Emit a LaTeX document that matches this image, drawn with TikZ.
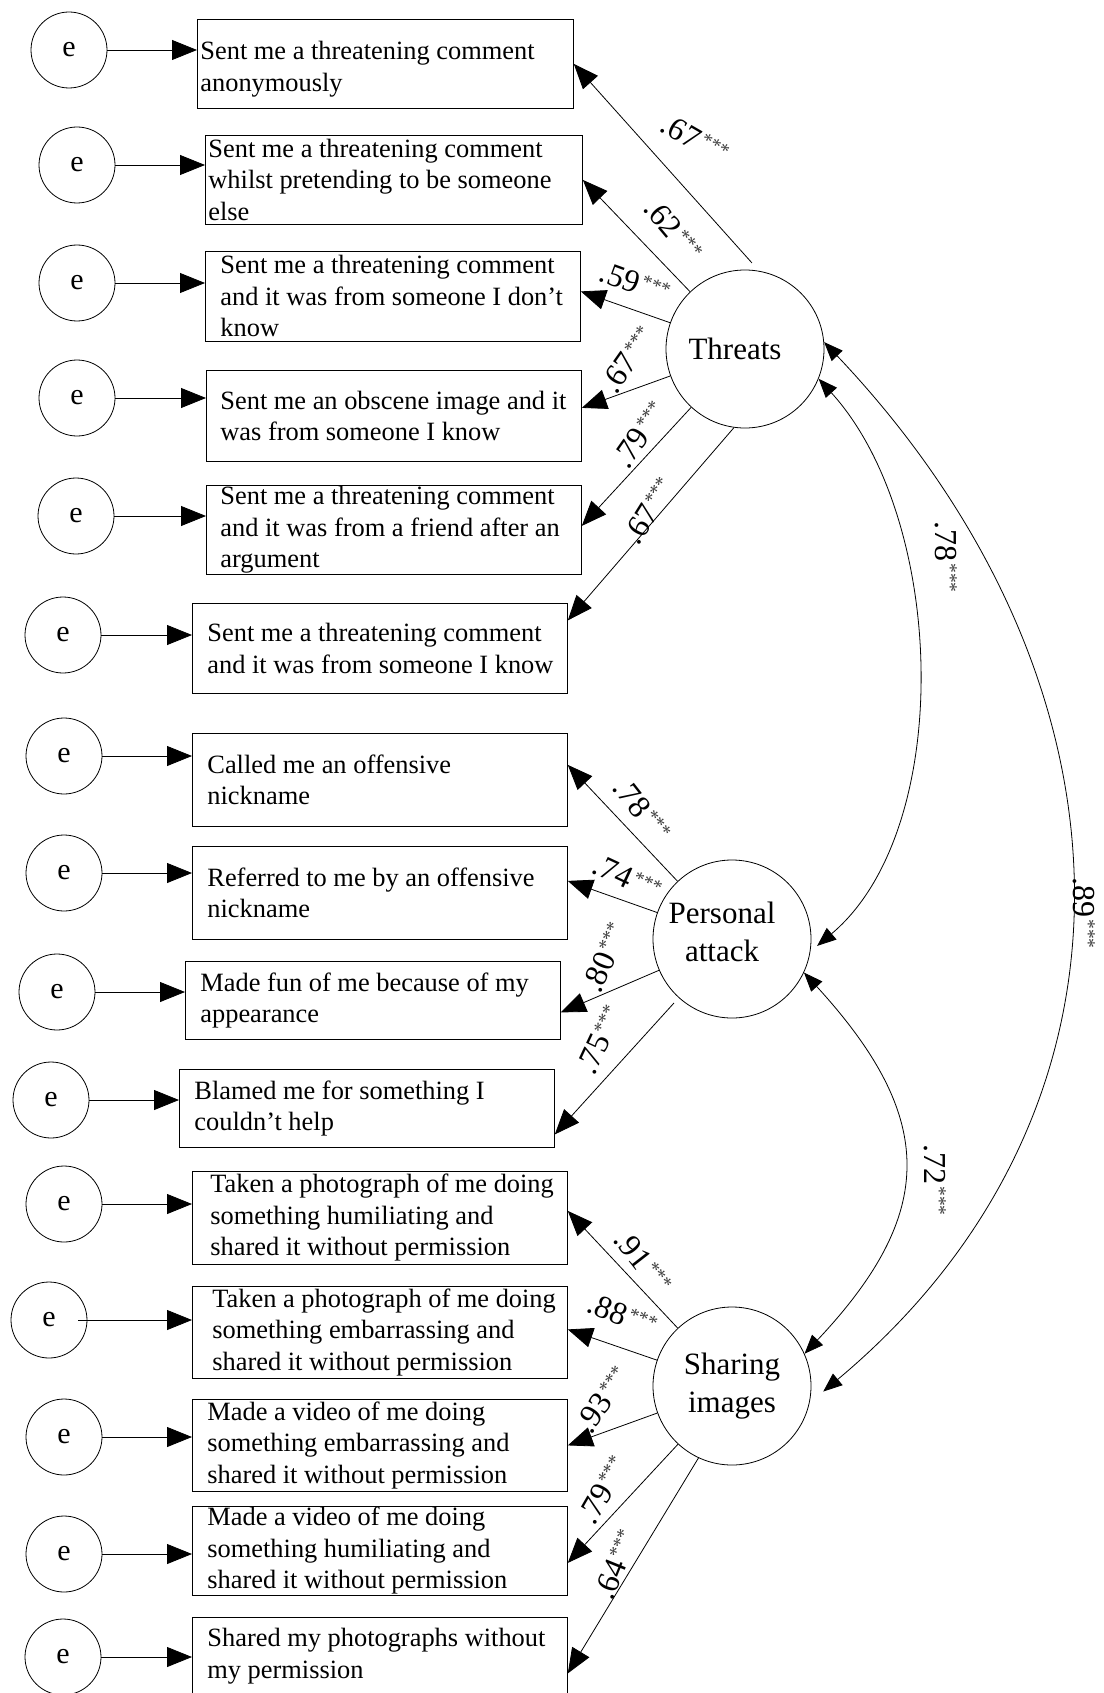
\documentclass[tikz,border=0pt]{standalone}
\usepackage{fontspec}
\setmainfont{Liberation Serif}
\usetikzlibrary{arrows.meta}
\definecolor{starcol}{RGB}{60,60,60}
\newcommand{\stars}{\kern2pt\raisebox{8.5pt}{\fontsize{19.5pt}{19.5pt}\selectfont\color{starcol}***}}
\newcommand{\nudgeleft}{\hspace*{-20pt}}

\begin{document}
\begin{tikzpicture}[x=1pt, y=-1pt, line width=0.8pt,
  errc/.style={circle, draw, minimum size=76pt, inner sep=0pt,
    font=\fontsize{30pt}{30pt}\selectfont},
  item/.style={rectangle, draw, anchor=north west, inner xsep=0pt, inner ysep=0pt,
    align=left, text width=375pt, font=\fontsize{26.4pt}{31.5pt}\selectfont},
  indent/.style={execute at begin node={\leftskip=#1\spaceskip=0pt\xspaceskip=0pt}},
  latent/.style={circle, draw, minimum size=158pt, inner sep=0pt, align=center,
    font=\fontsize{31pt}{38pt}\selectfont},
  load/.style={-{Triangle[length=25pt,width=20pt]}},
  cov/.style={{Triangle[length=19pt,width=15pt]}-{Triangle[length=19pt,width=15pt]}},
  coef/.style={inner sep=0pt, font=\fontsize{32pt}{32pt}\selectfont}]
\path[fill=white, use as bounding box] (0,0) rectangle (1103,1693);

\node[item, indent=3pt, text width=376pt, minimum height=89pt] (i1) at (197,19)
  {\rule{0pt}{29pt}Sent me a threatening comment\\anonymously};
\node[item, indent=3pt, text width=377pt, minimum height=89pt] (i2) at (205,135)
  {Sent me a threatening comment\\whilst pretending to be someone\\else};
\node[item, indent=15pt, minimum height=90pt] (i3) at (205,251)
  {Sent me a threatening comment\\and it was from someone I don't\\know};
\node[item, indent=14pt, minimum height=91pt] (i4) at (206,370)
  {Sent me an obscene image and it\\was from someone I know};
\node[item, indent=14pt, minimum height=89pt] (i5) at (206,485)
  {Sent me a threatening comment\\and it was from a friend after an\\argument};
\node[item, indent=15pt, minimum height=90pt] (i6) at (192,603)
  {Sent me a threatening comment\\and it was from someone I know};
\node[item, indent=15pt, minimum height=93pt] (i7) at (192,733)
  {Called me an offensive\\nickname};
\node[item, indent=15pt, minimum height=93pt] (i8) at (192,846)
  {Referred to me by an offensive\\nickname};
\node[item, indent=15pt, minimum height=78pt] (i9) at (185,961)
  {Made fun of me because of my\\appearance};
\node[item, indent=15pt, minimum height=78pt] (i10) at (179,1069)
  {Blamed me for something I\\couldn't help};
\node[item, indent=18pt, minimum height=93pt] (i11) at (192,1171)
  {Taken a photograph of me doing\\something humiliating and\\shared it without permission};
\node[item, indent=20pt, minimum height=92pt] (i12) at (192,1286)
  {Taken a photograph of me doing\\something embarrassing and\\shared it without permission};
\node[item, indent=15pt, minimum height=92pt] (i13) at (192,1399)
  {Made a video of me doing\\something embarrassing and\\shared it without permission};
\node[item, indent=15pt, minimum height=89pt] (i14) at (192,1506)
  {Made a video of me doing\\something humiliating and\\shared it without permission};
\node[item, indent=15pt, minimum height=78pt] (i15) at (192,1617)
  {Shared my photographs without\\my permission};

\node[errc] (e1) at (69,50) {e};
\node[errc] (e2) at (77,165) {e};
\node[errc] (e3) at (77,283) {e};
\node[errc] (e4) at (77,398) {e};
\node[errc] (e5) at (76,516) {e};
\node[errc] (e6) at (63,635) {e};
\node[errc] (e7) at (64,756) {e};
\node[errc] (e8) at (64,873) {e};
\node[errc] (e9) at (57,992) {e};
\node[errc] (e10) at (51,1100) {e};
\node[errc] (e11) at (64,1204) {e};
\node[errc] (e12) at (49,1320) {e};
\node[errc] (e13) at (64,1437) {e};
\node[errc] (e14) at (64,1554) {e};
\node[errc] (e15) at (63,1657) {e};

\foreach \k in {1,...,11,13,14,15}
  \draw[load] (e\k) -- (e\k -| i\k.west);
\draw[load] ([xshift=29pt]e12.center) -- (e12 -| i12.west);

\node[latent] (threats) at (745,349) {\nudgeleft Threats};
\node[latent] (pattack) at (732,939)
  {\nudgeleft Personal\\\nudgeleft attack\rule[-15pt]{0pt}{1pt}};
\node[latent] (sharing) at (732,1386) {Sharing\\images};

\draw[load] ([yshift=7pt]threats.85) -- (i1.east);
\draw[load] (threats) -- (i2.east);
\draw[load] (threats) -- ([yshift=5pt]i3.east);
\draw[load] (threats) -- ([yshift=8pt]i4.east);
\draw[load] (threats) -- ([yshift=4pt]i5.east);
\draw[load] (threats.-98) -- ([yshift=28pt]i6.east);
\draw[load] (pattack) -- ([yshift=15pt]i7.east);
\draw[load] (pattack) -- ([yshift=12pt]i8.east);
\draw[load] (pattack) -- ([yshift=-12pt]i9.east);
\draw[load, shorten <=7pt] (pattack) -- ([yshift=-26pt]i10.east);
\draw[load] (sharing) -- ([yshift=7pt]i11.east);
\draw[load] (sharing) -- ([yshift=3pt]i12.east);
\draw[load] (sharing) -- (i13.east);
\draw[load] (sharing) -- ([yshift=-12pt]i14.east);
\draw[load] (sharing.-115) -- ([yshift=-17pt]i15.east);

\draw[cov] (threats.-22) .. controls (947,520) and (955,830) .. ([xshift=6pt]pattack.-5);
\draw[cov] (pattack.-25) .. controls (937,1118) and (937,1213) .. (sharing.24);
\draw[cov] (threats.5) .. controls (1147,683) and (1160,1110) .. ([xshift=12pt]sharing.-4);

\node[coef, rotate=-30] (c1) at (695,139) {.67\stars};
\node[coef, rotate=-50] (c2) at (673,230) {.62\stars};
\node[coef, rotate=-20] (c3) at (635,283) {.59\stars};
\node[coef, rotate=55] (c4) at (628,360) {.67\stars};
\node[coef, rotate=55] (c5) at (640,435) {.79\stars};
\node[coef, rotate=58] (c6) at (649,511) {.67\stars};
\node[coef, rotate=-52] (c7) at (642,810) {.78\stars};
\node[coef, rotate=-25] (c8) at (627,878) {.74\stars};
\node[coef, rotate=67] (c9) at (605,958) {.80\stars};
\node[coef, rotate=65] (c10) at (600,1040) {.75\stars};
\node[coef, rotate=-52] (c11) at (643,1262) {.91\stars};
\node[coef, rotate=-22] (c12) at (622,1315) {.88\stars};
\node[coef, rotate=55] (c13) at (603,1400) {.93\stars};
\node[coef, rotate=60] (c14) at (603,1490) {.79\stars};
\node[coef, rotate=68] (c15) at (616,1565) {.64\stars};
\node[coef, rotate=-90] (r1) at (946,557) {.78\stars};
\node[coef, rotate=-90] (r2) at (935,1180) {.72\stars};
\node[coef, rotate=-90] (r3) at (1084,913) {.89\stars};
\end{tikzpicture}
\end{document}
